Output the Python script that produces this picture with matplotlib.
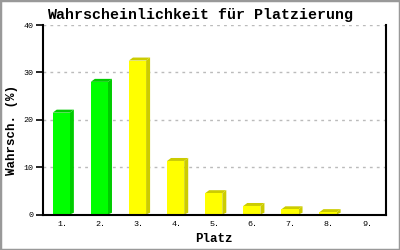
import matplotlib
matplotlib.use("Agg")
import matplotlib.pyplot as plt
from matplotlib.patches import Polygon, Rectangle

categories = ["1.", "2.", "3.", "4.", "5.", "6.", "7.", "8.", "9."]
values = [21.5, 28.0, 32.5, 11.3, 4.5, 1.8, 1.1, 0.5, 0.0]
front_colors = ["#00ff00", "#00ff00", "#ffff00", "#ffff00", "#ffff00", "#ffff00", "#ffff00", "#ffff00", "#ffff00"]
side_colors = ["#00cc00", "#00cc00", "#cccc00", "#cccc00", "#cccc00", "#cccc00", "#cccc00", "#cccc00", "#cccc00"]
yticks = [0, 10, 20, 30, 40]

fig = plt.figure(figsize=(4, 2.5), dpi=100)
fig.patches.append(Rectangle((0, 0), 1, 1, transform=fig.transFigure, fill=False,
                             edgecolor="#999999", linewidth=2.5, zorder=10))
ax = fig.add_axes([0.1075, 0.142, 0.8575, 0.758])
mono = "Liberation Mono"

w = 0.45
dx = 0.105
dy = 0.63
xs = list(range(len(categories)))
for x, v, fc, sc in zip(xs, values, front_colors, side_colors):
    if v <= 0:
        continue
    x0 = x - 0.245
    x1 = x0 + w
    ax.add_patch(Polygon([(x1, 0), (x1 + dx, dy * 0.6), (x1 + dx, v + dy), (x1, v)],
                         closed=True, facecolor=sc, edgecolor="none", zorder=2))
    ax.add_patch(Polygon([(x0, v), (x0 + dx, v + dy), (x1 + dx, v + dy), (x1, v)],
                         closed=True, facecolor=sc, edgecolor="none", zorder=2))
    ax.bar(x0, v, width=w, align="edge", color=fc, edgecolor="none", zorder=3)

ax.set_xlim(-0.5, len(categories) - 0.5)
ax.set_ylim(0, 40)
ax.set_yticks(yticks)
ax.set_yticklabels([str(t) for t in yticks], family=mono, fontsize=6)
ax.set_xticks(xs)
ax.set_xticklabels(categories, family=mono, fontsize=6)
ax.tick_params(axis="x", length=0, pad=5)
ax.tick_params(axis="y", length=5, width=1.2, direction="out", pad=2)
ax.grid(axis="y", color="#bbbbbb", linestyle=(0, (2, 3)), linewidth=1, zorder=0)
ax.set_axisbelow(True)
for s in ["left", "bottom", "right"]:
    ax.spines[s].set_linewidth(1.5)
    ax.spines[s].set_color("black")
ax.spines["top"].set_visible(False)
ax.spines["bottom"].set_zorder(5)

fig.text(200 / 400, (250 - 18.5) / 250, "Wahrscheinlichkeit für Platzierung", family=mono,
         fontweight="bold", fontsize=10.8, ha="center", va="baseline")
ax.set_xlabel("Platz", family=mono, fontweight="bold", fontsize=9)
ax.xaxis.set_label_coords((214 - 43) / 343, (214 - 238) / 189)
ax.xaxis.label.set_va("center")
ax.set_ylabel("Wahrsch. (%)", family=mono, fontweight="bold", fontsize=9)
ax.yaxis.set_label_coords((12 - 43) / 343, (214 - 130) / 189)
ax.yaxis.label.set_va("center")

fig.savefig("out.png", dpi=100)
